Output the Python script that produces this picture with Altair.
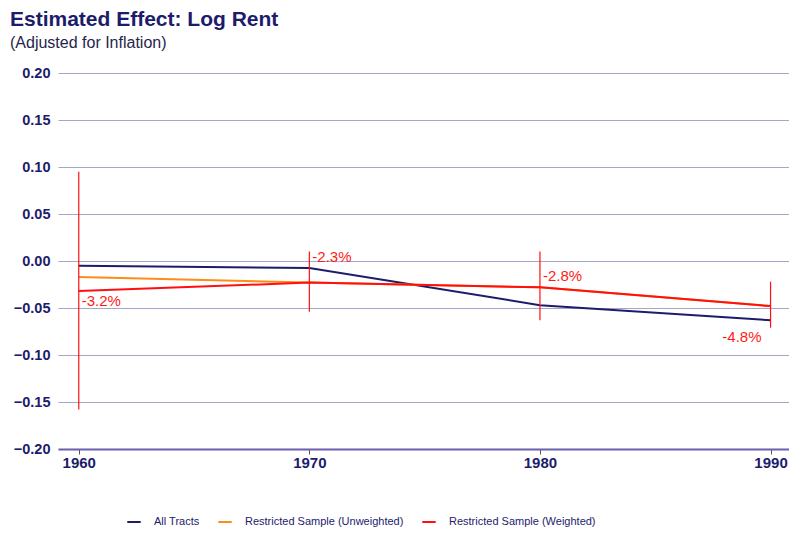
import altair as alt
import pandas as pd

years = [1960, 1970, 1980, 1990]
all_tracts = [-0.005, -0.0075, -0.047, -0.063]
unweighted = [-0.017, -0.023, -0.028, -0.048]
weighted = [-0.032, -0.023, -0.028, -0.048]
err_low = [-0.158, -0.054, -0.063, -0.071]
err_high = [0.095, 0.010, 0.010, -0.022]
labels = ["-3.2%", "-2.3%", "-2.8%", "-4.8%"]
series = ["All Tracts", "Restricted Sample (Unweighted)", "Restricted Sample (Weighted)"]
colors = ["#1c1c6b", "#ff8c1a", "#ff1010"]
y_ticks = [0.20, 0.15, 0.10, 0.05, 0.00, -0.05, -0.10, -0.15, -0.20]

rows = []
for i, yr in enumerate(years):
    rows.append({"year": yr, "series": series[0], "value": all_tracts[i]})
    rows.append({"year": yr, "series": series[1], "value": unweighted[i]})
    rows.append({"year": yr, "series": series[2], "value": weighted[i]})
lines_df = pd.DataFrame(rows)
pts_df = pd.DataFrame({"year": years, "value": weighted, "lo": err_low, "hi": err_high, "label": labels})

FONT = "Liberation Sans"
NAVY = "#1c1c6b"

xscale = alt.Scale(domain=[1959.1, 1990.8], nice=False, zero=False)
yscale = alt.Scale(domain=[-0.2, 0.2], nice=False, zero=False)

x_enc = alt.X("year:Q", scale=xscale, axis=alt.Axis(
    values=years, format="d", title=None, grid=False, domain=True,
    domainColor="#6a5fb0", domainWidth=2, tickColor="#555555", tickSize=5,
    labelFont=FONT, labelFontSize=15, labelFontWeight="bold", labelColor=NAVY,
    labelPadding=1))
y_enc = alt.Y("value:Q", scale=yscale, axis=alt.Axis(
    values=y_ticks, format=".2f", title=None, domain=False, ticks=False,
    grid=True, gridColor="#a6a6c8", gridWidth=1.2,
    labelFont=FONT, labelFontSize=14.5, labelFontWeight="bold", labelColor=NAVY,
    labelPadding=8))

base_lines = alt.Chart(lines_df).mark_line(strokeWidth=2).encode(
    x=x_enc, y=y_enc,
    color=alt.Color("series:N", scale=alt.Scale(domain=series, range=colors),
                    sort=series,
                    legend=alt.Legend(title=None, orient="none", direction="horizontal",
                                      legendX=68, legendY=441, symbolType="stroke",
                                      symbolStrokeWidth=2, symbolSize=180,
                                      labelFont=FONT, labelFontSize=11, labelColor=NAVY,
                                      columnPadding=14, labelOffset=12)),
    order=alt.Order("series:N"),
)

err = alt.Chart(pts_df).mark_rule(color="#ff1010", strokeWidth=1.2).encode(
    x="year:Q", y="lo:Q", y2="hi:Q")

specs = [
    (1960, "left", 3, 10),
    (1970, "left", 3, -26),
    (1980, "left", 3, -11),
    (1990, "right", -9, 31),
]
texts = []
for yr, al, dx, dy in specs:
    texts.append(alt.Chart(pts_df).transform_filter(alt.datum.year == yr).mark_text(
        align=al, baseline="middle", dx=dx, dy=dy, font=FONT, fontSize=15,
        color="#ff1a1a").encode(x="year:Q", y="value:Q", text="label:N"))

chart = alt.layer(base_lines, err, *texts).properties(
    width=731, height=376,
    autosize=alt.AutoSizeParams(type="none"),
    padding={"left": 50, "top": 65, "right": 0, "bottom": 78},
    background="white",
    title=alt.TitleParams(
        text="Estimated Effect: Log Rent", subtitle="(Adjusted for Inflation)",
        anchor="start", frame="group", dx=-48, offset=14, font=FONT, fontSize=21,
        fontWeight="bold", color=NAVY, subtitleFont=FONT, subtitleFontSize=16,
        subtitleColor="#26264a", subtitlePadding=5),
).configure_view(strokeOpacity=0, strokeWidth=0).configure_axisY(
    domain=False, ticks=False)

chart.save("out.html", embed_options={"renderer": "svg", "actions": False})
